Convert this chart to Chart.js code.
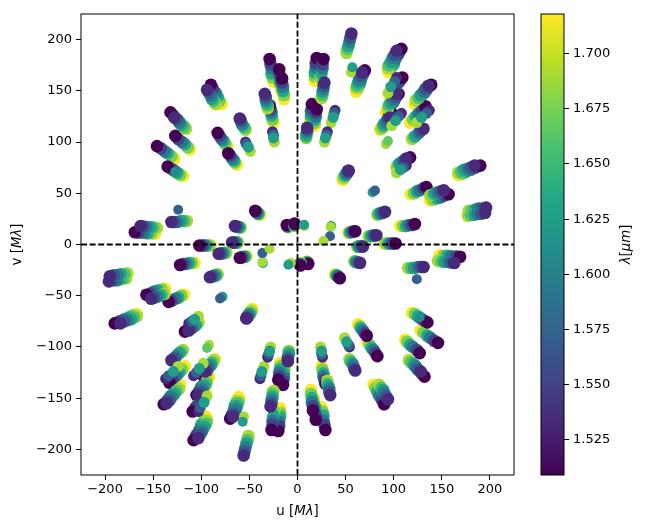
<!DOCTYPE html>
<html>
<head>
<meta charset="utf-8">
<title>uv coverage</title>
<script src="https://cdn.jsdelivr.net/npm/chart.js@4"></script>
<style>
  html, body { margin: 0; padding: 0; background: #fff; }
  #wrap { position: relative; width: 646px; height: 531px; overflow: hidden; }
  canvas { position: absolute; left: 0; top: 0; }
</style>
</head>
<body>
<div id="wrap">
  <canvas id="uvChart" width="646" height="531"></canvas>
  <canvas id="barChart" width="646" height="531"></canvas>
</div>
<script>
const uvTicks = [-200, -150, -100, -50, 0, 50, 100, 150, 200];
const lamTicks = [1.525, 1.55, 1.575, 1.6, 1.625, 1.65, 1.675, 1.7];
const lamMin = 1.509;
const lamMax = 1.718;

// wavelength channels, drawn long wavelength first so the short end sits on top
const fullLam = [1.718, 1.676, 1.634, 1.592, 1.55, 1.509];
const midLam = [1.69, 1.659, 1.628, 1.596, 1.565, 1.534];
const triLam = [1.69, 1.534, 1.572, 1.624];

const fullU = [
  [-25,-26,-27,-27,-28,-29],[-17,-17,-18,-18,-19,-19],[-14,-14,-15,-15,-16,-16],[-25,-26,-27,-27,-28,-29],
  [-79,-81,-83,-85,-88,-90],[-116,-119,-122,-125,-129,-132],[-73,-75,-77,-79,-81,-83],[-63,-65,-66,-68,-70,-72],
  [-112,-114,-117,-120,-124,-127],[-128,-131,-135,-138,-142,-146],[-119,-122,-125,-128,-131,-135],[-39,-40,-41,-42,-43,-44],
  [-148,-152,-156,-160,-165,-169],[-90,-92,-95,-97,-99,-102],[61,63,65,66,68,70],[18,18,18,19,19,20],
  [24,24,25,26,26,27],[13,14,14,14,15,15],[18,18,18,19,19,20],[95,97,100,102,105,108],
  [92,95,97,100,102,105],[122,125,128,132,135,139],[117,120,123,126,130,133],[103,105,108,111,114,117],
  [47,48,49,50,52,53],[118,121,124,127,131,134],[138,141,145,149,153,157],[167,171,175,180,185,190],
  [107,110,113,116,119,122],[53,54,55,57,58,60],[-10,-10,-10,-10.5,-11,-11],[-3,-3,-3,-3,-3,-3],
  [86,88,90,93,95,98],[96,98,101,103,106,109],
  [25,26,27,27,28,29],[17,17,18,18,19,19],[14,14,15,15,16,16],[25,26,27,27,28,29],
  [79,81,83,85,88,90],[116,119,122,125,129,132],[73,75,77,79,81,83],[63,65,66,68,70,72],
  [112,114,117,120,124,127],[128,131,135,138,142,146],[119,122,125,128,131,135],[39,40,41,42,43,44],
  [148,152,156,160,165,169],[90,92,95,97,99,102],[-61,-63,-65,-66,-68,-70],[-18,-18,-18,-19,-19,-20],
  [-24,-24,-25,-26,-26,-27],[-13,-14,-14,-14,-15,-15],[-18,-18,-18,-19,-19,-20],[-95,-97,-100,-102,-105,-108],
  [-92,-95,-97,-100,-102,-105],[-122,-125,-128,-132,-135,-139],[-117,-120,-123,-126,-130,-133],[-103,-105,-108,-111,-114,-117],
  [-47,-48,-49,-50,-52,-53],[-118,-121,-124,-127,-131,-134],[-138,-141,-145,-149,-153,-157],[-167,-171,-175,-180,-185,-190],
  [-107,-110,-113,-116,-119,-122],[-53,-54,-55,-57,-58,-60],[10,10,10,10.5,11,11],[3,3,3,3,3,3],
  [-86,-88,-90,-93,-95,-98],[-96,-98,-101,-103,-106,-109]
];
const fullV = [
  [159,163,167,172,176,181],[150,154,158,162,167,171],[142,146,150,154,158,162],[119,122,126,129,132,136],
  [137,140,144,148,152,156],[113,116,119,122,126,129],[96,98,101,103,106,109],[78,80,82,84,87,89],
  [93,95,98,100,103,106],[84,86,89,91,94,96],[67,68,70,72,74,76],[29,30,30,31,32,33],
  [10.5,11,11,11.4,11.7,12],[-1,-1,-1,-1,-1,-1],[149,153,157,161,166,170],[160,164,168,173,177,182],
  [159,163,167,172,176,181],[120,123,126,130,133,137],[116,119,122,125,129,132],[168,172,176,181,186,191],
  [129,132,136,139,143,147],[137,140,144,148,152,156],[119,122,125,128,131,135],[75,77,78,81,83,85],
  [63,65,66,68,70,72],[49,50,52,53,55,56],[43,44,45,46,48,49],[68,69,71,73,75,77],
  [18,18,18,19,19,20],[11.4,11.7,12,12.3,12.7,13],[17,17,17.5,18,18.5,19],[18,18.5,19,19.5,20,20.5],
  [112,115,118,121,125,128],[143,147,150,155,159,163],
  [-159,-163,-167,-172,-176,-181],[-150,-154,-158,-162,-167,-171],[-142,-146,-150,-154,-158,-162],[-119,-122,-126,-129,-132,-136],
  [-137,-140,-144,-148,-152,-156],[-113,-116,-119,-122,-126,-129],[-96,-98,-101,-103,-106,-109],[-78,-80,-82,-84,-87,-89],
  [-93,-95,-98,-100,-103,-106],[-84,-86,-89,-91,-94,-96],[-67,-68,-70,-72,-74,-76],[-29,-30,-30,-31,-32,-33],
  [-10.5,-11,-11,-11.4,-11.7,-12],[1,1,1,1,1,1],[-149,-153,-157,-161,-166,-170],[-160,-164,-168,-173,-177,-182],
  [-159,-163,-167,-172,-176,-181],[-120,-123,-126,-130,-133,-137],[-116,-119,-122,-125,-129,-132],[-168,-172,-176,-181,-186,-191],
  [-129,-132,-136,-139,-143,-147],[-137,-140,-144,-148,-152,-156],[-119,-122,-125,-128,-131,-135],[-75,-77,-78,-81,-83,-85],
  [-63,-65,-66,-68,-70,-72],[-49,-50,-52,-53,-55,-56],[-43,-44,-45,-46,-48,-49],[-68,-69,-71,-73,-75,-77],
  [-18,-18,-18,-19,-19,-20],[-11.4,-11.7,-12,-12.3,-12.7,-13],[-17,-17,-17.5,-18,-18.5,-19],[-18,-18.5,-19,-19.5,-20,-20.5],
  [-112,-115,-118,-121,-125,-128],[-143,-147,-150,-155,-159,-163]
];

const midU = [
  [-85,-87,-89,-90,-92,-94],[-116,-118,-121,-123,-125,-128],[-54,-55,-57,-58,-59,-60],[-115,-118,-121,-125,-128,-131],
  [-146,-150,-153,-157,-160,-163],[-59,-60,-61,-62,-64,-65],[-62,-63,-64,-65,-67,-68],[-31,-31,-32,-33,-33,-34],
  [51,52,53,54,55,56],[61,62,63,64,66,67],[25,26,26,27,27,28],[9,9,9,10,10,10],
  [94,95,97,99,101,103],[123,126,128,131,133,136],[103,105,106,109,111,113],[138,141,143,146,149,152],
  [167,170,173,177,180,184],[178,181,185,188,192,196],[177,180,184,187,191,195],[83,84,86,87,89,91],
  [74,76,77,79,80,82],[119,121,123,126,128,131],[48,49,50,51,52,53],[94,95,97,99,101,103],[87,89,90,92,94,96],
  [85,87,89,90,92,94],[116,118,121,123,125,128],[54,55,57,58,59,60],[115,118,121,125,128,131],
  [146,150,153,157,160,163],[59,60,61,62,64,65],[62,63,64,65,67,68],[31,31,32,33,33,34],
  [-51,-52,-53,-54,-55,-56],[-61,-62,-63,-64,-66,-67],[-25,-26,-26,-27,-27,-28],[-9,-9,-9,-10,-10,-10],
  [-94,-95,-97,-99,-101,-103],[-123,-126,-128,-131,-133,-136],[-103,-105,-106,-109,-111,-113],[-138,-141,-143,-146,-149,-152],
  [-167,-170,-173,-177,-180,-184],[-178,-181,-185,-188,-192,-196],[-177,-180,-184,-187,-191,-195],[-83,-84,-86,-87,-89,-91],
  [-74,-76,-77,-79,-80,-82],[-119,-121,-123,-126,-128,-131],[-48,-49,-50,-51,-52,-53],[-94,-95,-97,-99,-101,-103],[-87,-89,-90,-92,-94,-96]
];
const midV = [
  [137,140,142,145,148,151],[113,115,117,119,122,124],[112,114,116,118,121,123],[23,23,23,22,22,22],
  [16,16.5,17,17,17.5,18],[16.5,16.7,17,17.3,17.6,18],[2,2,2,2,2,2],[133,136,138,141,144,147],
  [187,191,194,198,202,206],[153,155,158,161,165,168],[143,146,149,152,155,158],[104,105,107,110,112,114],
  [172,175,178,182,185,189],[141,143,146,149,152,155],[76,78,79,81,82,84],[48,49,50,51,52,53],
  [70,71,73,74,75,77],[33,33,34,35,35,36],[28,29,29,30,30,31],[29,30,30,31,31,32],
  [8,8,8.5,8.7,8.8,9],[103,105,106,109,111,113],[65,67,68,69,71,72],[133,136,138,141,144,147],[113,115,117,119,122,124],
  [-137,-140,-142,-145,-148,-151],[-113,-115,-117,-119,-122,-124],[-112,-114,-116,-118,-121,-123],[-23,-23,-23,-22,-22,-22],
  [-16,-16.5,-17,-17,-17.5,-18],[-16.5,-16.7,-17,-17.3,-17.6,-18],[-2,-2,-2,-2,-2,-2],[-133,-136,-138,-141,-144,-147],
  [-187,-191,-194,-198,-202,-206],[-153,-155,-158,-161,-165,-168],[-143,-146,-149,-152,-155,-158],[-104,-105,-107,-110,-112,-114],
  [-172,-175,-178,-182,-185,-189],[-141,-143,-146,-149,-152,-155],[-76,-78,-79,-81,-82,-84],[-48,-49,-50,-51,-52,-53],
  [-70,-71,-73,-74,-75,-77],[-33,-33,-34,-35,-35,-36],[-28,-29,-29,-30,-30,-31],[-29,-30,-30,-31,-31,-32],
  [-8,-8,-8.5,-8.7,-8.8,-9],[-103,-105,-106,-109,-111,-113],[-65,-67,-68,-69,-71,-72],[-133,-136,-138,-141,-144,-147],[-113,-115,-117,-119,-122,-124]
];

const triU = [
  [-24,-26,-25,-25],[-49,-54,-53,-51],[35,39,38,37],[28,31,30,29],[98,108,105,102],[94,103,101,97],[124,137,134,129],[103,113,110,107],
  [24,26,25,25],[49,54,53,51],[-35,-39,-38,-37],[-28,-31,-30,-29],[-98,-108,-105,-102],[-94,-103,-101,-97],[-124,-137,-134,-129],[-103,-113,-110,-107]
];
const triV = [
  [100,110,107,104],[91,100,98,95],[119,131,128,124],[100,110,107,104],[116,128,125,121],[148,163,159,154],[119,131,128,124],[70,77,75,73],
  [-100,-110,-107,-104],[-91,-100,-98,-95],[-119,-131,-128,-124],[-100,-110,-107,-104],[-116,-128,-125,-121],[-148,-163,-159,-154],[-119,-131,-128,-124],[-70,-77,-75,-73]
];

// odd points that only show one or two channels
const dotU = [-124,124,78,80.5,-78,-80.5,-127,127,92,94,-92,-94,55.6,57,-55.6,-57,35,34.5,-36,-36.5,33.8,27,-36.5,-29,7,6.8,-7,-9.5];
const dotV = [34,-34,51,52.7,-51,-52.7,71,-71,98,101,-98,-101,168,173,-168,-173,18,17,-18,-17,8,3.3,-8.4,-4.2,18,19.2,-18,-19.8];
const dotLam = [1.572,1.572,1.624,1.572,1.624,1.572,1.61,1.61,1.69,1.666,1.69,1.666,1.69,1.624,1.69,1.624,1.624,1.69,1.624,1.69,1.572,1.69,1.572,1.69,1.69,1.624,1.69,1.624];

const viridis = ['#440154','#482475','#414487','#355f8d','#2a788e','#21918c','#22a884','#44bf70','#7ad151','#bddf26','#fde725'];

function hexToRgb(h) {
  return [1, 3, 5].map(i => parseInt(h.substr(i, 2), 16));
}

function lamColor(lam) {
  const t = Math.min(1, Math.max(0, (lam - lamMin) / (lamMax - lamMin))) * (viridis.length - 1);
  const i = Math.min(viridis.length - 2, Math.floor(t));
  const a = hexToRgb(viridis[i]);
  const b = hexToRgb(viridis[i + 1]);
  const f = t - i;
  return `rgb(${a.map((c, k) => Math.round(c + (b[k] - c) * f)).join(',')})`;
}

function trackDataset(uRows, vRows, lams, radius) {
  const points = [];
  const colors = [];
  uRows.forEach((row, r) => {
    row.forEach((u, i) => {
      points.push({ x: u, y: vRows[r][i] });
      colors.push(lamColor(lams[i]));
    });
  });
  return { data: points, pointRadius: radius, pointBorderWidth: 0, pointBackgroundColor: colors, showLine: false };
}

function dashedLine(points) {
  return { data: points, showLine: true, pointRadius: 0, borderColor: '#000', borderWidth: 1.8, borderDash: [6, 2.6] };
}

const FONT = '"DejaVu Sans"';

function drawLabel(ctx, parts, x, y, rot) {
  ctx.save();
  ctx.translate(x, y);
  ctx.rotate(rot);
  ctx.fillStyle = '#000';
  ctx.textBaseline = 'middle';
  ctx.textAlign = 'left';
  const fontOf = p => `${p[1] ? 'italic ' : ''}13.3px ${FONT}`;
  let total = 0;
  parts.forEach(p => { ctx.font = fontOf(p); total += ctx.measureText(p[0]).width; });
  let cx = -total / 2;
  parts.forEach(p => {
    ctx.font = fontOf(p);
    ctx.fillText(p[0], cx, 0);
    cx += ctx.measureText(p[0]).width;
  });
  ctx.restore();
}

const frame = {
  id: 'frame',
  afterDraw(chart) {
    const a = chart.chartArea;
    const ctx = chart.ctx;
    ctx.save();
    ctx.strokeStyle = '#000';
    ctx.lineWidth = 1;
    ctx.strokeRect(a.left, a.top, a.right - a.left, a.bottom - a.top);
    ctx.restore();
  }
};

const uvLabels = {
  id: 'uvLabels',
  afterDraw(chart) {
    drawLabel(chart.ctx, [['u [', false], ['M\u03bb', true], [']', false]], 297.5, 512, 0);
    drawLabel(chart.ctx, [['v [', false], ['M\u03bb', true], [']', false]], 18, 244.5, -Math.PI / 2);
  }
};

const barLabel = {
  id: 'barLabel',
  afterDraw(chart) {
    drawLabel(chart.ctx, [['\u03bb', true], ['[', false], ['\u03bcm', true], [']', false]], 627, 244.5, -Math.PI / 2);
  }
};

function axisOptions(ticks, pad, fit) {
  return {
    type: 'linear',
    min: -225,
    max: 225,
    afterBuildTicks: s => { s.ticks = ticks.map(value => ({ value })); },
    afterFit: fit,
    grid: { drawOnChartArea: false, drawTicks: true, tickLength: 5, tickColor: '#000', tickWidth: 1 },
    border: { display: false },
    ticks: {
      color: '#000',
      font: { family: FONT, size: 13 },
      padding: pad,
      maxRotation: 0,
      autoSkip: false,
      callback: v => String(v).replace('-', '\u2212')
    }
  };
}

new Chart(document.getElementById('uvChart').getContext('2d'), {
  type: 'scatter',
  data: {
    datasets: [
      dashedLine([{ x: 0, y: -225 }, { x: 0, y: 225 }]),
      dashedLine([{ x: -225, y: 0 }, { x: 225, y: 0 }]),
      {
        data: dotU.map((u, i) => ({ x: u, y: dotV[i] })),
        pointRadius: 5,
        pointBorderWidth: 0,
        pointBackgroundColor: dotLam.map(lamColor),
        showLine: false
      },
      trackDataset(triU, triV, triLam, 5.5),
      trackDataset(midU, midV, midLam, 6.3),
      trackDataset(fullU, fullV, fullLam, 6.3)
    ]
  },
  options: {
    responsive: false,
    animation: false,
    devicePixelRatio: 1,
    layout: { padding: { left: 0, right: 132, top: 14, bottom: 0 }, autoPadding: false },
    plugins: { legend: { display: false }, tooltip: { enabled: false } },
    scales: {
      x: axisOptions(uvTicks, 2, s => { s.height = 56; }),
      y: axisOptions(uvTicks, 4, s => { s.width = 81; })
    }
  },
  plugins: [frame, uvLabels]
});

new Chart(document.getElementById('barChart').getContext('2d'), {
  type: 'bar',
  data: {
    labels: ['\u03bb'],
    datasets: [{
      data: [[lamMin, lamMax]],
      barPercentage: 1,
      categoryPercentage: 1,
      backgroundColor(c) {
        const a = c.chart.chartArea;
        if (!a) return viridis[0];
        const g = c.chart.ctx.createLinearGradient(0, a.bottom, 0, a.top);
        viridis.forEach((col, i) => g.addColorStop(i / (viridis.length - 1), col));
        return g;
      }
    }]
  },
  options: {
    responsive: false,
    animation: false,
    devicePixelRatio: 1,
    layout: { padding: { left: 541, right: 0, top: 14, bottom: 56 }, autoPadding: false },
    plugins: { legend: { display: false }, tooltip: { enabled: false } },
    scales: {
      x: { display: false },
      y: {
        type: 'linear',
        position: 'right',
        min: lamMin,
        max: lamMax,
        afterBuildTicks: s => { s.ticks = lamTicks.map(value => ({ value })); },
        afterFit: s => { s.width = 82; },
        grid: { drawOnChartArea: false, drawTicks: true, tickLength: 5, tickColor: '#000', tickWidth: 1 },
        border: { display: false },
        ticks: {
          color: '#000',
          font: { family: FONT, size: 13 },
          padding: 4,
          autoSkip: false,
          callback: v => v.toFixed(3)
        }
      }
    }
  },
  plugins: [frame, barLabel]
});
</script>
</body>
</html>
